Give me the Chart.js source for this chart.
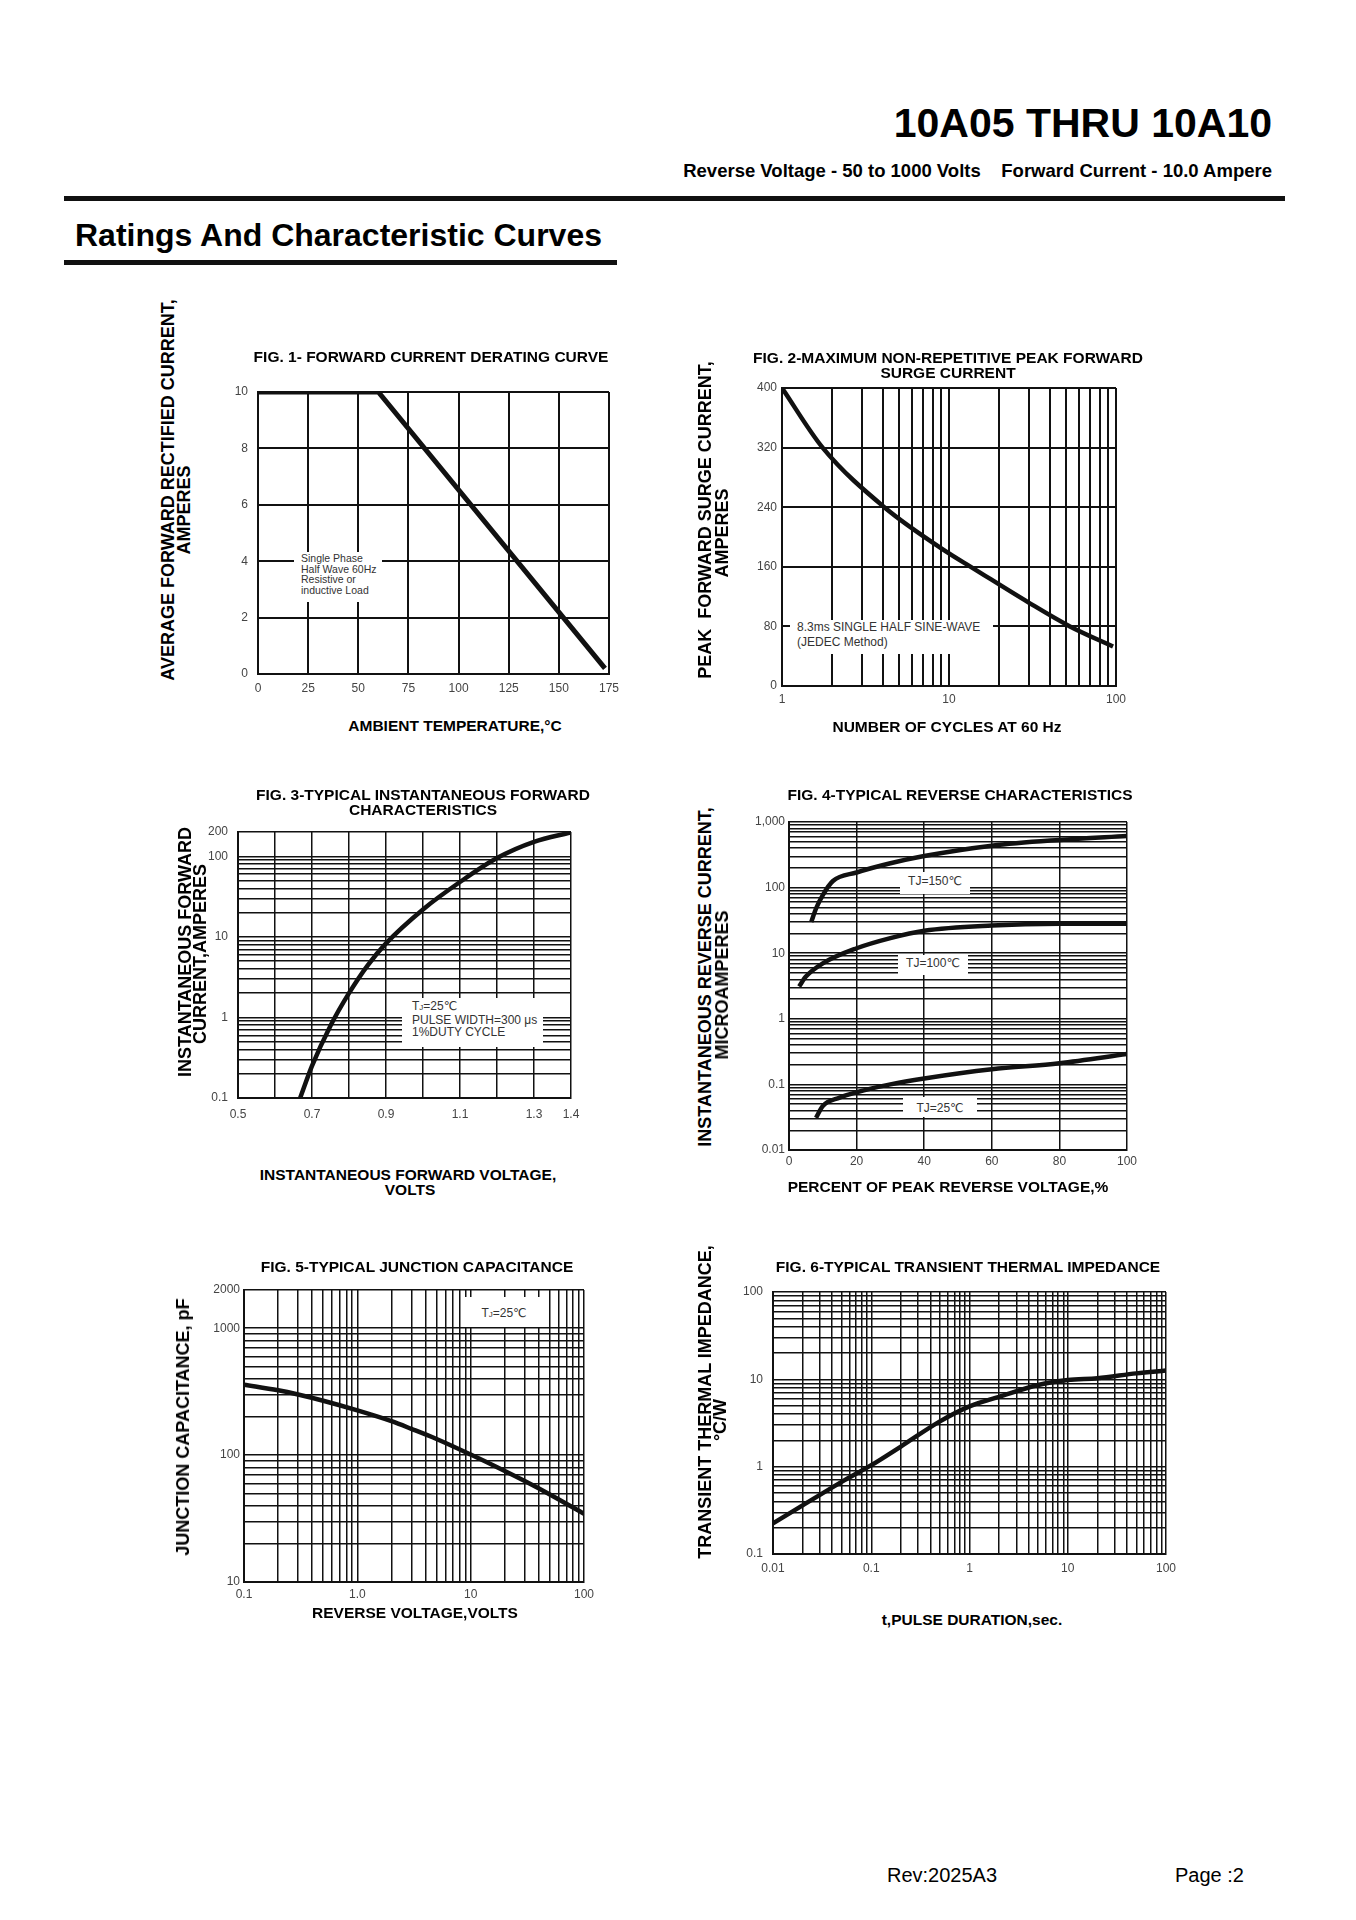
<!DOCTYPE html>
<html>
<head>
<meta charset="utf-8">
<script src="https://cdn.jsdelivr.net/npm/chart.js@4.4.0/dist/chart.umd.min.js"></script>
<style>
body{margin:0;background:#fff;}
#page{position:relative;width:1356px;height:1920px;background:#fff;overflow:hidden;
  font-family:"Liberation Sans",Arial,"DejaVu Sans",sans-serif;color:#000;}
.t{position:absolute;white-space:pre;line-height:1;}
.note{position:absolute;background:#fff;color:#333;white-space:nowrap;font-size:12px;line-height:12px;}
canvas{position:absolute;}
.rule{position:absolute;background:#111;}
</style>
</head>
<body>
<div id="page"></div>
<script>
// Fig. 1 - forward current derating
const fig1Temp = [0, 60, 173];
const fig1Current = [10, 10, 0.2];
const fig1XTicks = [0, 25, 50, 75, 100, 125, 150, 175];
const fig1YTicks = [0, 2, 4, 6, 8, 10];

// Fig. 2 - peak forward surge current
const fig2Cycles = [1, 1.75, 4.1, 10, 13.5, 30, 53, 96];
const fig2Surge = [400, 320, 240, 178, 160, 112, 80, 53];
const fig2XTicks = [1, 10, 100];
const fig2YTicks = [0, 80, 160, 240, 320, 400];

// Fig. 3 - instantaneous forward characteristics
const fig3Volts = [0.668, 0.7, 0.75, 0.8, 0.85, 0.9, 1.0, 1.1, 1.2, 1.3, 1.4];
const fig3Amps = [0.1, 0.25, 0.79, 2.0, 4.4, 8.3, 21.9, 47.9, 95, 151, 198];
const fig3XTicks = [0.5, 0.7, 0.9, 1.1, 1.3, 1.4];
const fig3XLabels = ["0.5", "0.7", "0.9", "1.1", "1.3", "1.4"];
const fig3YTicks = [0.1, 1, 10, 100, 200];

// Fig. 4 - reverse characteristics
const fig4Tj150X = [6.6, 8, 10, 13, 20, 30, 40, 60, 80, 100];
const fig4Tj150Y = [30, 48, 77, 126, 170, 235, 303, 436, 533, 613];
const fig4Tj100X = [3, 5, 10, 20, 30, 40, 60, 80, 100];
const fig4Tj100Y = [3.1, 4.4, 7.0, 11.9, 17, 22, 26.4, 28, 28];
const fig4Tj25X = [8, 10, 15, 20, 30, 40, 60, 80, 100];
const fig4Tj25Y = [0.031, 0.047, 0.063, 0.076, 0.1, 0.123, 0.17, 0.21, 0.29];
const fig4XTicks = [0, 20, 40, 60, 80, 100];
const fig4YTicks = [0.01, 0.1, 1, 10, 100, 1000];
const fig4YLabels = ["0.01", "0.1", "1", "10", "100", "1,000"];

// Fig. 5 - junction capacitance
const fig5Volts = [0.1, 0.2, 0.3, 0.5, 1, 2, 3, 5, 10, 20, 30, 50, 100];
const fig5Cap = [359, 324, 300, 268, 225, 185, 161, 134, 101, 75, 62.5, 49, 34.5];
const fig5XTicks = [0.1, 1, 10, 100];
const fig5XLabels = ["0.1", "1.0", "10", "100"];
const fig5YTicks = [10, 100, 1000, 2000];

// Fig. 6 - transient thermal impedance
const fig6Time = [0.01, 0.02, 0.05, 0.1, 0.2, 0.5, 1, 2, 5, 10, 20, 50, 100];
const fig6Zth = [0.224, 0.36, 0.67, 1.04, 1.7, 3.3, 4.9, 6.3, 8.6, 9.8, 10.3, 11.7, 12.6];
const fig6XTicks = [0.01, 0.1, 1, 10, 100];
const fig6YTicks = [0.1, 1, 10, 100];

const page = document.getElementById("page");
Chart.defaults.font.family = '"Liberation Sans", Arial, sans-serif';

function logGrid(min, max){
    const out = [];
    for(let e = Math.floor(Math.log10(min)); e <= Math.ceil(Math.log10(max)); e++){
        for(let m = 1; m <= 9; m++){
            const v = +(m * Math.pow(10, e)).toPrecision(6);
            if(v >= min * 0.9999 && v <= max * 1.0001) out.push(v);
        }
    }
    if(out[out.length - 1] < max) out.push(max);
    return out;
}

function linGrid(min, max, step){
    const out = [];
    for(let v = min; v <= max + step / 1000; v += step) out.push(+v.toFixed(6));
    return out;
}

function labeler(vals, labels){
    return function(value){
        const i = vals.findIndex(v => Math.abs(v - value) <= Math.abs(v) * 1e-6 + 1e-9);
        if(i < 0) return "";
        return labels ? labels[i] : String(vals[i]);
    };
}

function makeChart(box, cfg){
    // padding big enough that chart.js never pushes the plot area in
    const padL = 60, padR = 32, padT = 32, padB = 40;
    const w = box.r - box.l + padL + padR;
    const h = box.b - box.t + padT + padB;
    const cv = document.createElement("canvas");
    cv.width = w; cv.height = h;
    cv.style.left = (box.l - padL) + "px";
    cv.style.top = (box.t - padT) + "px";
    cv.style.width = w + "px";
    cv.style.height = h + "px";
    page.appendChild(cv);

    const gw = cfg.gridWidth || 1.5;
    const axis = (a, pos) => ({
        type: a.type,
        position: pos,
        min: a.min,
        max: a.max,
        afterBuildTicks: s => { s.ticks = a.grid.map(v => ({value: v})); },
        afterFit: s => {
            if(pos === "left") s.width = padL;
            else s.height = padB;
        },
        grid: {color: "#111", lineWidth: gw, drawTicks: false},
        border: {color: "#111", width: 2},
        ticks: {
            autoSkip: false,
            maxRotation: 0,
            padding: a.pad,
            color: "#444",
            font: {size: 12},
            callback: labeler(a.ticks, a.labels)
        }
    });

    return new Chart(cv, {
        type: "line",
        data: {
            datasets: cfg.series.map(s => ({
                data: s.x.map((x, i) => ({x: x, y: s.y[i]})),
                borderColor: "#111",
                borderWidth: cfg.lineWidth || 4.5,
                pointRadius: 0,
                fill: false,
                tension: cfg.tension === undefined ? 0.4 : cfg.tension,
                cubicInterpolationMode: cfg.tension === 0 ? "default" : "monotone"
            }))
        },
        options: {
            responsive: false,
            animation: false,
            layout: {padding: {left: 0, right: padR, top: padT, bottom: 0}},
            plugins: {legend: {display: false}, tooltip: {enabled: false}},
            scales: {x: axis(cfg.x, "bottom"), y: axis(cfg.y, "left")}
        }
    });
}

// text helpers
function txt(s, x, cy, size, opt){
    opt = opt || {};
    const d = document.createElement("div");
    d.className = "t";
    d.textContent = s;
    d.style.fontSize = size + "px";
    d.style.fontWeight = opt.normal ? "normal" : "bold";
    if(opt.rot){
        d.style.left = x + "px";
        d.style.top = cy + "px";
        d.style.transform = "translate(-50%,-50%) rotate(-90deg)";
    } else if(opt.align === "right"){
        d.style.right = (1356 - x) + "px";
        d.style.top = (cy - size / 2) + "px";
    } else if(opt.align === "left"){
        d.style.left = x + "px";
        d.style.top = (cy - size / 2) + "px";
    } else {
        d.style.left = x + "px";
        d.style.top = (cy - size / 2) + "px";
        d.style.transform = "translateX(-50%)";
    }
    page.appendChild(d);
}

function note(html, l, t, w, h, style){
    const d = document.createElement("div");
    d.className = "note";
    d.innerHTML = html;
    d.style.left = l + "px";
    d.style.top = t + "px";
    d.style.width = w + "px";
    d.style.height = h + "px";
    d.style.boxSizing = "border-box";
    Object.assign(d.style, style || {});
    page.appendChild(d);
}

function rule(l, t, w, h){
    const d = document.createElement("div");
    d.className = "rule";
    d.style.left = l + "px"; d.style.top = t + "px";
    d.style.width = w + "px"; d.style.height = h + "px";
    page.appendChild(d);
}

// page header
txt("10A05 THRU 10A10", 1272, 123, 41, {align: "right"});
txt("Reverse Voltage - 50 to 1000 Volts    Forward Current - 10.0 Ampere", 1272, 171, 18.5, {align: "right"});
rule(64, 196, 1221, 5);
txt("Ratings And Characteristic Curves", 75, 235, 32, {align: "left"});
rule(64, 260, 553, 5);

// charts
makeChart({l: 258, t: 392, r: 609, b: 674}, {
    series: [{x: fig1Temp, y: fig1Current}],
    tension: 0, lineWidth: 5, gridWidth: 2,
    x: {type: "linear", min: 0, max: 175, grid: fig1XTicks, ticks: fig1XTicks, pad: 7},
    y: {type: "linear", min: 0, max: 10, grid: fig1YTicks, ticks: fig1YTicks, pad: 10}
});

makeChart({l: 782, t: 388, r: 1116, b: 686}, {
    series: [{x: fig2Cycles, y: fig2Surge}],
    gridWidth: 2,
    x: {type: "logarithmic", min: 1, max: 100, grid: logGrid(1, 100), ticks: fig2XTicks, pad: 6},
    y: {type: "linear", min: 0, max: 400, grid: fig2YTicks, ticks: fig2YTicks, pad: 5}
});

makeChart({l: 238, t: 832, r: 571, b: 1098}, {
    series: [{x: fig3Volts, y: fig3Amps}],
    x: {type: "linear", min: 0.5, max: 1.4, grid: linGrid(0.5, 1.4, 0.1), ticks: fig3XTicks, labels: fig3XLabels, pad: 9},
    y: {type: "logarithmic", min: 0.1, max: 200, grid: logGrid(0.1, 200), ticks: fig3YTicks, pad: 10}
});

makeChart({l: 789, t: 822, r: 1127, b: 1150}, {
    series: [
        {x: fig4Tj150X, y: fig4Tj150Y},
        {x: fig4Tj100X, y: fig4Tj100Y},
        {x: fig4Tj25X, y: fig4Tj25Y}
    ],
    x: {type: "linear", min: 0, max: 100, grid: fig4XTicks, ticks: fig4XTicks, pad: 4},
    y: {type: "logarithmic", min: 0.01, max: 1000, grid: logGrid(0.01, 1000), ticks: fig4YTicks, labels: fig4YLabels, pad: 4}
});

makeChart({l: 244, t: 1290, r: 584, b: 1582}, {
    series: [{x: fig5Volts, y: fig5Cap}],
    x: {type: "logarithmic", min: 0.1, max: 100, grid: logGrid(0.1, 100), ticks: fig5XTicks, labels: fig5XLabels, pad: 5},
    y: {type: "logarithmic", min: 10, max: 2000, grid: logGrid(10, 2000), ticks: fig5YTicks, pad: 4}
});

makeChart({l: 773, t: 1292, r: 1166, b: 1554}, {
    series: [{x: fig6Time, y: fig6Zth}],
    x: {type: "logarithmic", min: 0.01, max: 100, grid: logGrid(0.01, 100), ticks: fig6XTicks, pad: 7},
    y: {type: "logarithmic", min: 0.1, max: 100, grid: logGrid(0.1, 100), ticks: fig6YTicks, pad: 10}
});

// figure titles and axis titles
const TS = 15.5, YS = 18;
txt("FIG. 1- FORWARD CURRENT DERATING CURVE", 431, 357, TS);
txt("AMBIENT TEMPERATURE,°C", 455, 726, TS);
txt("AVERAGE FORWARD RECTIFIED CURRENT,", 168, 490, YS, {rot: true});
txt("AMPERES", 184, 510, YS, {rot: true});

txt("FIG. 2-MAXIMUM NON-REPETITIVE PEAK FORWARD", 948, 358, TS);
txt("SURGE CURRENT", 948, 373, TS);
txt("NUMBER OF CYCLES AT 60 Hz", 947, 727, TS);
txt("PEAK  FORWARD SURGE CURRENT,", 705, 520, YS, {rot: true});
txt("AMPERES", 722, 533, YS, {rot: true});

txt("FIG. 3-TYPICAL INSTANTANEOUS FORWARD", 423, 795, TS);
txt("CHARACTERISTICS", 423, 810, TS);
txt("INSTANTANEOUS FORWARD VOLTAGE,", 408, 1175, TS);
txt("VOLTS", 410, 1190, TS);
txt("INSTANTANEOUS FORWARD", 185, 952, YS, {rot: true});
txt("CURRENT,AMPERES", 200, 954, YS, {rot: true});

txt("FIG. 4-TYPICAL REVERSE CHARACTERISTICS", 960, 795, TS);
txt("PERCENT OF PEAK REVERSE VOLTAGE,%", 948, 1187, TS);
txt("INSTANTANEOUS REVERSE CURRENT,", 705, 977, YS, {rot: true});
txt("MICROAMPERES", 722, 985, YS, {rot: true});

txt("FIG. 5-TYPICAL JUNCTION CAPACITANCE", 417, 1267, TS);
txt("REVERSE VOLTAGE,VOLTS", 415, 1613, TS);
txt("JUNCTION CAPACITANCE, pF", 183, 1427, YS, {rot: true});

txt("FIG. 6-TYPICAL TRANSIENT THERMAL IMPEDANCE", 968, 1267, TS);
txt("t,PULSE DURATION,sec.", 972, 1620, TS);
txt("TRANSIENT THERMAL IMPEDANCE,", 705, 1402, YS, {rot: true});
txt("°C/W", 720, 1420, YS, {rot: true});

// notes inside the plots
const sub = "<span style='font-size:8px'>J</span>";
note("Single Phase<br>Half Wave 60Hz<br>Resistive or<br>inductive Load", 294, 552, 88, 50,
    {fontSize: "10.5px", lineHeight: "10.7px", paddingLeft: "7px", paddingTop: "1px"});
note("8.3ms SINGLE HALF SINE-WAVE<br>(JEDEC Method)", 790, 620, 203, 34,
    {lineHeight: "15px", paddingLeft: "7px"});
note("T" + sub + "=25℃<br>PULSE WIDTH=300 μs<br>1%DUTY CYCLE", 402, 998, 141, 49,
    {paddingLeft: "10px", paddingTop: "2px"});
note("TJ=150℃", 900, 872, 70, 22, {textAlign: "center", paddingTop: "3px"});
note("TJ=100℃", 898, 955, 70, 20, {textAlign: "center", paddingTop: "2px"});
note("TJ=25℃", 903, 1097, 74, 20, {textAlign: "center", paddingTop: "5px"});
note("T" + sub + "=25℃", 465, 1297, 78, 30, {textAlign: "center", paddingTop: "10px"});

// footer
txt("Rev:2025A3", 887, 1875, 20, {align: "left", normal: true});
txt("Page :2", 1175, 1875, 20, {align: "left", normal: true});
</script>
</body>
</html>
